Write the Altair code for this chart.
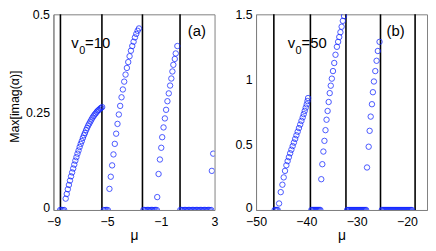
import altair as alt
import pandas as pd

# ---------------- panel (a): v0 = 10 ----------------
a_lines = [-8.48, -5.39, -2.37, 0.43]

a_mu_r1 = [-8.09, -8.01, -7.93, -7.85, -7.77, -7.69, -7.61, -7.53, -7.45, -7.37, -7.29, -7.21,
           -7.13, -7.05, -6.97, -6.89, -6.81, -6.73, -6.65, -6.57, -6.49, -6.41, -6.33, -6.25,
           -6.17, -6.09, -6.01, -5.93, -5.85, -5.77, -5.69, -5.61, -5.53, -5.45, -5.37]
a_im_r1 = [0.029, 0.041, 0.053, 0.064, 0.075, 0.086, 0.096, 0.106, 0.116, 0.126, 0.135, 0.144,
           0.152, 0.161, 0.169, 0.176, 0.184, 0.191, 0.197, 0.204, 0.210, 0.216, 0.221, 0.226,
           0.231, 0.236, 0.240, 0.244, 0.247, 0.251, 0.254, 0.256, 0.259, 0.261, 0.263]

a_mu_r2 = [-4.83, -4.73, -4.63, -4.53, -4.43, -4.33, -4.23, -4.13, -4.03, -3.93, -3.83, -3.73,
           -3.63, -3.53, -3.43, -3.33, -3.23, -3.13, -3.03, -2.93, -2.83, -2.73, -2.63]
a_im_r2 = [0.054, 0.085, 0.114, 0.142, 0.169, 0.195, 0.220, 0.244, 0.266, 0.288, 0.308, 0.328,
           0.346, 0.363, 0.378, 0.393, 0.407, 0.419, 0.430, 0.441, 0.450, 0.458, 0.464]

a_mu_r3 = [-1.27, -1.17, -1.07, -0.97, -0.90, -0.80, -0.70, -0.61, -0.51, -0.41, -0.31, -0.22,
           -0.14, -0.07, 0.04, 0.11, 0.23]
a_im_r3 = [0.033, 0.092, 0.129, 0.159, 0.186, 0.211, 0.234, 0.256, 0.278, 0.298, 0.318, 0.336,
           0.354, 0.371, 0.386, 0.400, 0.419]

a_mu_r4 = [2.8, 2.9]
a_im_r4 = [0.100, 0.144]

a_mu_zero = [-8.5, -8.4, -8.3, -8.2,
             -5.25, -5.15, -5.05, -4.95,
             -2.3, -2.2, -2.1, -2.0, -1.9, -1.8, -1.7, -1.6, -1.5, -1.4, -1.3,
             0.45, 0.55, 0.65, 0.75, 0.85, 0.95, 1.05, 1.15, 1.25, 1.35, 1.45, 1.55,
             1.65, 1.75, 1.85, 1.95, 2.05, 2.15, 2.25, 2.35, 2.45, 2.55, 2.65, 2.75]

# ---------------- panel (b): v0 = 50 ----------------
b_lines = [-46.46, -39.19, -32.12, -25.25, -18.37]

b_mu_r1 = [-45.42, -45.09, -44.76, -44.50, -44.24, -43.97, -43.72, -43.47, -43.22, -42.97,
           -42.72, -42.47, -42.22, -41.97, -41.72, -41.47, -41.22, -40.97, -40.72, -40.52,
           -40.32, -40.12, -39.92, -39.77, -39.65]
b_im_r1 = [0.050, 0.137, 0.194, 0.250, 0.300, 0.343, 0.375, 0.405, 0.435, 0.462,
           0.490, 0.517, 0.545, 0.573, 0.600, 0.628, 0.655, 0.683, 0.710, 0.735,
           0.760, 0.785, 0.810, 0.835, 0.858]

b_mu_r2 = [-37.03, -36.82, -36.61, -36.40, -36.19, -35.98, -35.77, -35.56, -35.35, -35.14,
           -34.93, -34.70, -34.45, -34.20, -33.92, -33.68, -33.45, -33.22, -32.98, -32.74, -32.51]
b_im_r2 = [0.236, 0.351, 0.448, 0.530, 0.612, 0.692, 0.759, 0.828, 0.896, 0.953,
           1.007, 1.065, 1.127, 1.190, 1.251, 1.289, 1.326, 1.363, 1.405, 1.450, 1.487]

b_mu_r3 = [-27.93, -27.60, -27.41, -27.20, -26.95, -26.76, -26.56, -26.29, -26.03, -25.78, -25.44]
b_im_r3 = [0.326, 0.485, 0.607, 0.716, 0.811, 0.903, 0.985, 1.065, 1.144, 1.219, 1.289]

b_mu_zero = [-46.3, -46.1, -45.9, -45.7,
             -39.0, -38.8, -38.6, -38.4, -38.2, -38.0, -37.8, -37.6, -37.4, -37.2,
             -31.9, -31.7, -31.5, -31.3, -31.1, -30.9, -30.7, -30.5, -30.3, -30.1,
             -29.9, -29.7, -29.5, -29.3, -29.1, -28.9, -28.7, -28.5, -28.3, -28.1,
             -25.0, -24.8, -24.6, -24.4, -24.2, -24.0, -23.8, -23.6, -23.4, -23.2,
             -23.0, -22.8, -22.6, -22.4, -22.2, -22.0, -21.8, -21.6, -21.4, -21.2,
             -21.0, -20.8, -20.6, -20.4, -20.2, -20.0, -19.8, -19.6, -19.4, -19.2, -19.0]

a_xticks = [-9, -5, -1, 3]
a_yticks = [0, 0.25, 0.5]
b_xticks = [-50, -40, -30, -20]
b_yticks = [0, 0.5, 1, 1.5]

BLUE = "#1428ff"
FONT = "Liberation Sans"
LABEL = "replace('' + datum.value, '-', '\u2212')"
ZERO_UP = {"condition": {"test": "datum.value == 0", "value": -2.5}, "value": 0}


def points_df(mus_list, ims_list, zeros):
    mus, ims = [], []
    for m, v in zip(mus_list, ims_list):
        mus += m
        ims += v
    mus += zeros
    ims += [0.0] * len(zeros)
    return pd.DataFrame({"mu": mus, "im": ims})


def panel(df, lines, xdom, ydom, xticks, yticks, ytitle, w, tag, v0, tagx, vx):
    xs = alt.Scale(domain=xdom, nice=False, zero=False)
    ys = alt.Scale(domain=ydom, nice=False, zero=False)
    xaxis = alt.Axis(values=xticks, title="μ", grid=False, ticks=False, labelPadding=6,
                     titlePadding=0, labelFlush=False, labelExpr=LABEL)
    if ytitle:
        yaxis = alt.Axis(values=yticks, title=ytitle, grid=False, ticks=False,
                         labelPadding=4, titlePadding=4, titleY=93, titleFontSize=12.5,
                         labelExpr=LABEL, labelOffset=ZERO_UP)
    else:
        yaxis = alt.Axis(values=yticks, title=None, grid=False, ticks=False, labelPadding=4,
                         labelExpr=LABEL, labelOffset=ZERO_UP)
    rules = alt.Chart(pd.DataFrame({"mu": lines})).mark_rule(
        color="black", strokeWidth=1.6
    ).encode(x=alt.X("mu:Q", scale=xs, axis=xaxis))
    pts = alt.Chart(df).mark_point(
        shape="circle", filled=False, size=30, strokeWidth=0.9, color=BLUE, opacity=0.85,
        clip=True
    ).encode(
        x=alt.X("mu:Q", scale=xs, axis=xaxis),
        y=alt.Y("im:Q", scale=ys, axis=yaxis),
    )
    txt = alt.Chart(pd.DataFrame({"t": [tag]})).mark_text(
        align="left", baseline="middle", fontSize=15, font=FONT, color="black"
    ).encode(x=alt.value(tagx), y=alt.value(17), text="t:N")
    tv = alt.Chart(pd.DataFrame({"t": ["v"]})).mark_text(
        align="left", baseline="middle", fontSize=15, font=FONT, color="black"
    ).encode(x=alt.value(vx), y=alt.value(29), text="t:N")
    t0 = alt.Chart(pd.DataFrame({"t": ["0"]})).mark_text(
        align="left", baseline="middle", fontSize=11, font=FONT, color="black"
    ).encode(x=alt.value(vx + 8), y=alt.value(37), text="t:N")
    teq = alt.Chart(pd.DataFrame({"t": ["=" + v0]})).mark_text(
        align="left", baseline="middle", fontSize=15, font=FONT, color="black"
    ).encode(x=alt.value(vx + 14), y=alt.value(29), text="t:N")
    return alt.layer(rules, pts, txt, tv, t0, teq).properties(width=w, height=198)


df_a = points_df([a_mu_r1, a_mu_r2, a_mu_r3, a_mu_r4],
                 [a_im_r1, a_im_r2, a_im_r3, a_im_r4], a_mu_zero)
df_b = points_df([b_mu_r1, b_mu_r2, b_mu_r3], [b_im_r1, b_im_r2, b_im_r3], b_mu_zero)

pa = panel(df_a, a_lines, [-9, 3], [0, 0.5], a_xticks, a_yticks, "Max[imag(α)]", 163,
           "(a)", "10", 136, 18)
pb = panel(df_b, b_lines, [-50, -16], [0, 1.5], b_xticks, b_yticks, None, 173,
           "(b)", "50", 132, 32)

chart = alt.hconcat(pa, pb, spacing=16).properties(
    padding={"left": 0, "top": -2, "right": 0, "bottom": 0}
).configure_view(stroke="#808080", strokeWidth=1).configure_axis(
    domainColor="#808080", labelFont=FONT, titleFont=FONT, labelFontSize=12.5,
    titleFontSize=14, labelColor="black", titleColor="black", titleFontWeight="normal"
)

chart.save("out.html", embed_options={"renderer": "svg", "actions": False})
